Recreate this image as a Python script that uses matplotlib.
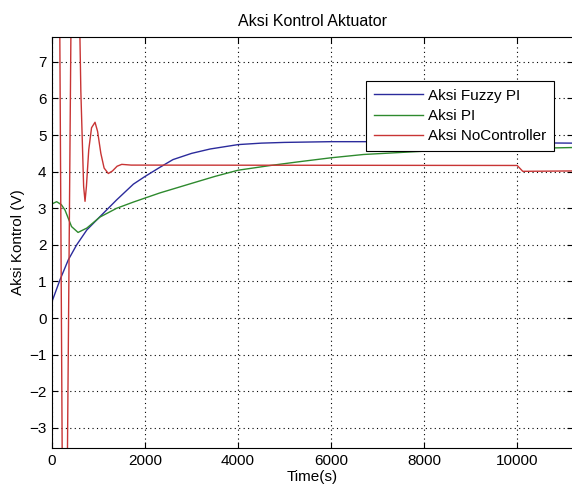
import numpy as np
import matplotlib
matplotlib.use("Agg")
import matplotlib.pyplot as plt

plt.rcParams['font.family'] = ['Liberation Sans', 'DejaVu Sans']

# Aksi Fuzzy PI
t_fuzzy = [0, 170, 350, 530, 750, 1030, 1390, 1750, 2000, 2320, 2600, 3000, 3400, 4000, 4500, 5000, 6000, 8000, 10000, 10100, 11200]
u_fuzzy = [0.45, 1.04, 1.59, 2.0, 2.41, 2.77, 3.23, 3.66, 3.87, 4.12, 4.33, 4.5, 4.62, 4.74, 4.78, 4.80, 4.82, 4.82, 4.82, 4.79, 4.78]

# Aksi PI
t_pi = [0, 100, 200, 280, 420, 560, 750, 1030, 1390, 1750, 2000, 2320, 3000, 3500, 4000, 4700, 5300, 6000, 6700, 8000, 9000, 10000, 11200]
u_pi = [3.12, 3.18, 3.1, 2.95, 2.5, 2.34, 2.46, 2.76, 3.0, 3.17, 3.28, 3.42, 3.68, 3.87, 4.04, 4.17, 4.27, 4.38, 4.47, 4.56, 4.6, 4.63, 4.66]

# Aksi NoController
t_nc = [0, 140, 265, 460, 600, 620, 650, 680, 710, 740, 790, 850, 925, 980, 1050, 1120, 1210, 1300, 1400, 1500, 1700, 10000, 10120, 11200]
u_nc = [12, 14, -14, 16, 7.7, 6.2, 4.9, 3.6, 3.19, 3.6, 4.6, 5.2, 5.35, 5.1, 4.5, 4.1, 3.95, 4.02, 4.15, 4.2, 4.18, 4.17, 4.01, 4.02]

fig = plt.figure(figsize=(5.72, 4.92), dpi=100)
ax = fig.add_axes([52/572, 44/492, 521/572, 411/492])

ax.plot(t_fuzzy, u_fuzzy, color='#2b2b9c', lw=1.0, label='Aksi Fuzzy PI')
ax.plot(t_pi, u_pi, color='#2e8a2e', lw=1.0, label='Aksi PI')
ax.plot(t_nc, u_nc, color='#c83434', lw=1.0, label='Aksi NoController')

ax.set_xlim(0, 11200)
ax.set_ylim(-3.55, 7.68)
ax.set_xticks([0, 2000, 4000, 6000, 8000, 10000])
ax.set_yticks(range(-3, 8))
ax.tick_params(direction='in', top=True, right=True, labelsize=11, length=4, pad=4)
ax.grid(True, linestyle=(0, (1, 3)), color='black', lw=0.8)

ax.set_title('Aksi Kontrol Aktuator', fontsize=11.5, pad=8)
ax.set_xlabel('Time(s)', fontsize=11, labelpad=2)
ax.set_ylabel('Aksi Kontrol (V)', fontsize=11, labelpad=3)

leg = ax.legend(loc='upper left', bbox_to_anchor=(0.6027, 0.893), borderaxespad=0,
                fontsize=11, handlelength=3.2, handletextpad=0.35,
                labelspacing=0.42, borderpad=0.5,
                fancybox=False, framealpha=1, edgecolor='black')
leg.get_frame().set_linewidth(0.8)

fig.savefig('out.png', dpi=100)
